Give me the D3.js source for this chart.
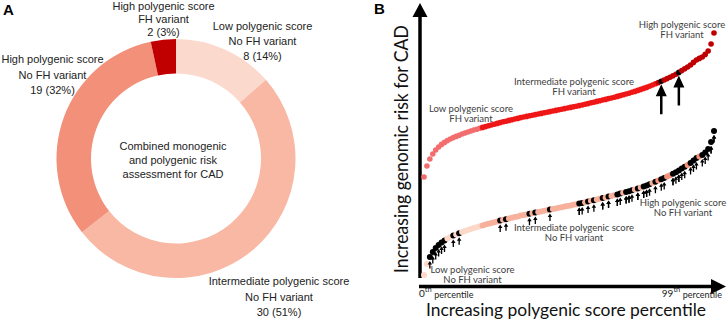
<!DOCTYPE html>
<html>
<head>
<meta charset="utf-8">
<script src="https://cdn.jsdelivr.net/npm/d3@7"></script>
<style>
  body { margin: 0; background: #fff; }
  svg { display: block; }
</style>
</head>
<body>
<svg id="chart" width="728" height="320"></svg>
<script>
// ---- data: panel A (donut) ----
const groupNames = [
  ['Low polygenic score', 'No FH variant'],
  ['Intermediate polygenic score', 'No FH variant'],
  ['High polygenic score', 'No FH variant'],
  ['High polygenic score', 'FH variant']
];
const groupCounts = [8, 30, 19, 2];
const groupColors = ['#fbdacd', '#f8b8a3', '#f2907a', '#c00000'];
const centerText = ['Combined monogenic', 'and polygenic risk', 'assessment for CAD'];

// ---- data: panel B (risk by polygenic score percentile, arbitrary units) ----
const percentiles = d3.range(100);
const riskFH = [55.5, 61, 64.5, 67, 69, 70.5, 71.8, 72.8, 73.7, 74.5,
  75.2, 75.8, 76.4, 77.0, 77.5, 78.0, 78.5, 79.0, 79.4, 79.9,
  80.3, 80.7, 81.1, 81.5, 81.9, 82.3, 82.7, 83.1, 83.4, 83.8,
  84.1, 84.5, 84.8, 85.2, 85.5, 85.8, 86.1, 86.4, 86.7, 87.0,
  87.3, 87.6, 87.9, 88.2, 88.5, 88.8, 89.1, 89.4, 89.7, 90.0,
  90.3, 90.6, 90.9, 91.2, 91.5, 91.9, 92.2, 92.6, 92.9, 93.3,
  93.6, 94.0, 94.3, 94.7, 95.0, 95.4, 95.8, 96.2, 96.6, 97.0,
  97.4, 97.9, 98.3, 98.8, 99.3, 99.8, 100.3, 100.9, 101.5, 102.1,
  102.7, 103.4, 104.0, 104.7, 105.4, 106.1, 106.9, 107.8, 108.7, 109.6,
  110.5, 111.5, 112.8, 114.0, 114.8, 115.5, 116.8, 118.5, 122.0, 127.5];
const riskNoFH = [6.5, 12, 15.5, 18, 20, 21.5, 22.8, 23.8, 24.7, 25.5,
  26.2, 26.8, 27.4, 28.0, 28.5, 29.0, 29.5, 30.0, 30.4, 30.9,
  31.3, 31.7, 32.1, 32.5, 32.9, 33.3, 33.7, 34.1, 34.4, 34.8,
  35.1, 35.5, 35.8, 36.2, 36.5, 36.8, 37.1, 37.4, 37.7, 38.0,
  38.3, 38.6, 38.9, 39.2, 39.5, 39.8, 40.1, 40.4, 40.7, 41.0,
  41.3, 41.6, 41.9, 42.2, 42.5, 42.9, 43.2, 43.6, 43.9, 44.3,
  44.6, 45.0, 45.3, 45.7, 46.0, 46.4, 46.8, 47.2, 47.6, 48.0,
  48.4, 48.9, 49.3, 49.8, 50.3, 50.8, 51.3, 51.9, 52.5, 53.1,
  53.7, 54.4, 55.0, 55.7, 56.4, 57.1, 57.9, 58.8, 59.7, 60.6,
  61.5, 62.5, 63.8, 65.0, 65.8, 66.5, 67.8, 69.5, 73.0, 78.5];
const bandCuts = [20, 80]; // low < 20th, high >= 80th percentile
const bandColorsFH = ['#f26d6d', '#ee1616', '#c00000'];
const bandColorsNoFH = ['#fcd8c9', '#f7b09b', '#f3937c'];

// patient percentiles
const patientsLow = [2, 3, 4, 5, 6, 7, 10, 12];
const patientsInt = [26, 28, 36, 38, 43, 53, 53, 54, 56, 58, 61, 61, 63, 63, 66,
  66, 67, 69, 69, 70, 70, 71, 73, 73, 75, 75, 76, 76, 77, 79];
const patientsHigh = [81, 82, 85, 85, 86, 87, 87, 88, 89, 91, 92, 93, 95, 96, 97, 98, 98, 99, 99];
const patientsFH = [81, 87];

// B text
const curveNotes = [
  ['High polygenic score', 'FH variant'],
  ['Intermediate polygenic score', 'FH variant'],
  ['Low polygenic score', 'FH variant'],
  ['High polygenic score', 'No FH variant'],
  ['Intermediate polygenic score', 'No FH variant'],
  ['Low polygenic score', 'No FH variant']
];

const svg = d3.select('#chart');
const sansA = '"Liberation Sans", Arial, sans-serif';
const sansB = 'Lato, "Open Sans", sans-serif';

// ================= Panel A =================
svg.append('text').attr('x', 3).attr('y', 15)
  .style('font-family', sansA).style('font-weight', 'bold').style('font-size', '15px')
  .text('A');

const total = d3.sum(groupCounts);
const pie = d3.pie().sort(null).value(d => d);
const arc = d3.arc().innerRadius(85).outerRadius(119.5);
const gA = svg.append('g').attr('transform', 'translate(176,158.5)');
gA.selectAll('path')
  .data(pie(groupCounts))
  .enter().append('path')
  .attr('d', arc)
  .attr('fill', (d, i) => groupColors[i]);

// label anchors (center x, first baseline, line step)
const donutLabelPos = [[262.5, 30, 15], [279, 285, 15.5], [52.5, 63, 15.5], [163.5, 10, 12.8]];
groupNames.forEach((lines, i) => {
  const pct = Math.round(groupCounts[i] / total * 100);
  const all = lines.concat([groupCounts[i] + ' (' + pct + '%)']);
  const p = donutLabelPos[i];
  const t = svg.append('text')
    .attr('text-anchor', 'middle')
    .style('font-family', sansA).style('font-size', '11px').style('fill', '#222');
  all.forEach((s, k) => {
    t.append('tspan').attr('x', p[0]).attr('y', p[1] + k * p[2]).text(s);
  });
});

const ct = svg.append('text').attr('text-anchor', 'middle')
  .style('font-family', sansA).style('font-size', '11px').style('fill', '#222');
centerText.forEach((s, k) => {
  ct.append('tspan').attr('x', 173).attr('y', 150 + k * 14).text(s);
});

// ================= Panel B =================
svg.append('text').attr('x', 374).attr('y', 14)
  .style('font-family', sansA).style('font-weight', 'bold').style('font-size', '15px')
  .text('B');

const x = d3.scaleLinear().domain([0, 99]).range([424, 714]);
const y = d3.scaleLinear().domain([0, 135]).range([288, 18]);

// axes as arrows
const axisG = svg.append('g');
axisG.append('line').attr('x1', 420).attr('y1', 278).attr('x2', 420).attr('y2', 15)
  .attr('stroke', '#000').attr('stroke-width', 3.5);
axisG.append('path').attr('d', 'M420,3 L427.5,17 L412.5,17 Z').attr('fill', '#000');
axisG.append('line').attr('x1', 419).attr('y1', 286.5).attr('x2', 713).attr('y2', 286.5)
  .attr('stroke', '#000').attr('stroke-width', 3.5);
axisG.append('path').attr('d', 'M726,286.5 L711,279 L711,294 Z').attr('fill', '#000');

svg.append('text')
  .attr('transform', 'translate(408,149) rotate(-90)')
  .attr('text-anchor', 'middle')
  .attr('textLength', 248).attr('lengthAdjust', 'spacingAndGlyphs')
  .style('font-family', sansB).style('font-size', '19px').style('fill', '#111')
  .text('Increasing genomic risk for CAD');
svg.append('text')
  .attr('x', 566).attr('y', 316.3)
  .attr('text-anchor', 'middle')
  .attr('textLength', 280).attr('lengthAdjust', 'spacingAndGlyphs')
  .style('font-family', sansB).style('font-size', '17px').style('fill', '#111')
  .text('Increasing polygenic score percentile');

// "0th percentile" / "99th percentile" built from separate pieces
function percentileLabel(xPos, num, alignEnd) {
  const g = svg.append('g').style('font-family', sansB).style('fill', '#222');
  const a = g.append('text').attr('y', 296.5).style('font-size', '10px').text(num);
  const b = g.append('text').attr('y', 292).style('font-size', '7.5px').text('th');
  const c = g.append('text').attr('y', 297.5).style('font-size', '9px').text('percentile');
  const wa = a.node().getComputedTextLength();
  const wb = b.node().getComputedTextLength();
  const wc = c.node().getComputedTextLength();
  const gap = 2.5;
  const x0 = alignEnd ? xPos - (wa + wb + gap + wc) : xPos;
  a.attr('x', x0);
  b.attr('x', x0 + wa);
  c.attr('x', x0 + wa + wb + gap);
}
percentileLabel(419, '0', false);
percentileLabel(722, '99', true);

function band(p) {
  return p < bandCuts[0] ? 0 : (p < bandCuts[1] ? 1 : 2);
}

function drawCurve(values, colors, patients, r) {
  const marked = new Set(patients);
  const g = svg.append('g');
  g.selectAll('circle')
    .data(percentiles)
    .enter().append('circle')
    .attr('cx', p => x(p))
    .attr('cy', p => y(values[p]))
    .attr('r', r)
    .attr('fill', p => marked.has(p) ? '#000' : colors[band(p)]);
}

const allNoFH = patientsLow.concat(patientsInt, patientsHigh);
drawCurve(riskNoFH, bandColorsNoFH, allNoFH, 3);
drawCurve(riskFH, bandColorsFH, patientsFH, 2.8);

// arrow shape pointing up, tip at (cx, tip)
function arrowPath(cx, tip, len, headH, headW, shaftW) {
  const hw = headW / 2, sw = shaftW / 2;
  return 'M' + cx + ',' + tip +
    ' L' + (cx + hw) + ',' + (tip + headH) +
    ' L' + (cx + sw) + ',' + (tip + headH) +
    ' L' + (cx + sw) + ',' + (tip + len) +
    ' L' + (cx - sw) + ',' + (tip + len) +
    ' L' + (cx - sw) + ',' + (tip + headH) +
    ' L' + (cx - hw) + ',' + (tip + headH) + ' Z';
}

// small arrows under each patient without FH variant
svg.append('g').selectAll('path')
  .data(allNoFH)
  .enter().append('path')
  .attr('d', p => arrowPath(x(p), y(riskNoFH[p]) + 4, 7.5, 3.5, 4.5, 1.3))
  .attr('fill', '#000');

// big arrows under the FH variant carriers
svg.append('g').selectAll('path')
  .data(patientsFH)
  .enter().append('path')
  .attr('d', p => arrowPath(x(p), y(riskFH[p]) + 3, 30, 12, 11, 2.5))
  .attr('fill', '#000');

// curve notes (center x, first baseline)
const notePos = [[682, 27.5], [574, 84.5], [471, 111.5], [683, 205.5], [574, 230.5], [472.5, 272.5]];
curveNotes.forEach((lines, i) => {
  const t = svg.append('text').attr('text-anchor', 'middle')
    .style('font-family', sansB).style('font-size', '9.5px').style('fill', '#404040');
  lines.forEach((s, k) => {
    t.append('tspan').attr('x', notePos[i][0]).attr('y', notePos[i][1] + k * 10.5).text(s);
  });
});
</script>
</body>
</html>
